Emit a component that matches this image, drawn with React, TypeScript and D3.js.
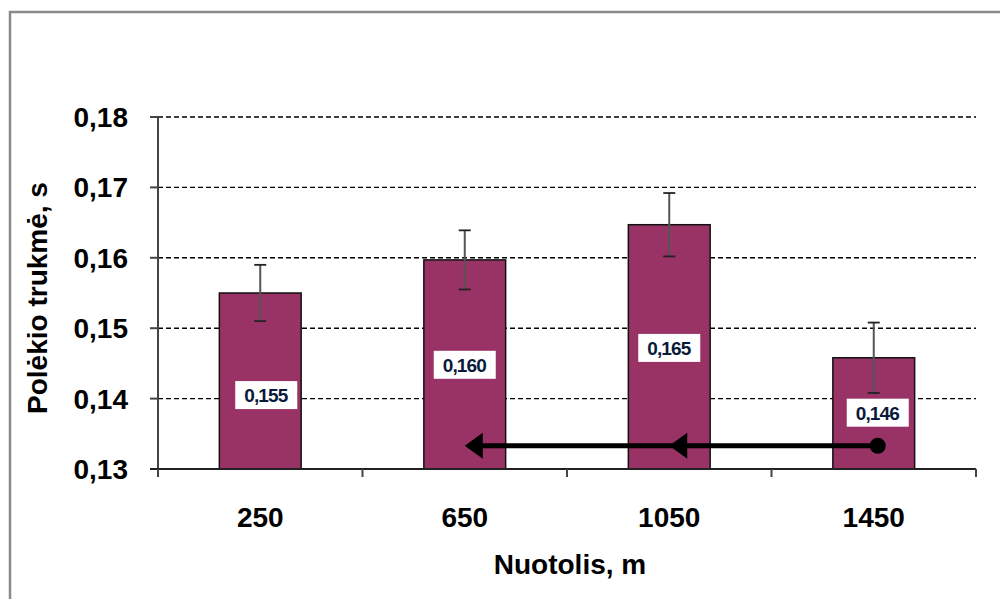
import React from "react";
import * as d3 from "d3";

const categories = ["250", "650", "1050", "1450"];
const values = [0.155, 0.1597, 0.1647, 0.1458];
const errors = [0.004, 0.0042, 0.0045, 0.005];
const labels = ["0,155", "0,160", "0,165", "0,146"];
const labelAt = [0.1405, 0.1448, 0.1472, 0.138];
const yTicks = [0.13, 0.14, 0.15, 0.16, 0.17, 0.18];
const arrowLevel = 0.1333;
const arrowFrom = "1450";
const arrowTo = "650";
const arrowMid = "1050";

const W = 1000;
const H = 599;
const left = 158;
const right = 976;
const top = 117;
const bottom = 469;
const FONT = "'Liberation Sans', Arial, sans-serif";
const BAR = "#993366";

export default function App() {
  const x = d3.scaleBand<string>().domain(categories).range([left, right]).paddingInner(0.6).paddingOuter(0.3);
  const xb = d3.scaleBand<string>().domain(categories).range([left, right]);
  const y = d3.scaleLinear().domain([0.13, 0.18]).range([bottom, top]);
  const fmt = (v: number) => d3.format(".2f")(v).replace(".", ",");
  const cx = (c: string) => (xb(c) as number) + xb.bandwidth() / 2;
  const ay = y(arrowLevel);
  const x1 = cx(arrowFrom) + 4;
  const x2 = cx(arrowTo);
  const xm = cx(arrowMid);
  const head = (tip: number) => `M${tip},${ay} L${tip + 18},${ay - 13} L${tip + 18},${ay + 13} Z`;

  return (
    <div style={{ position: "fixed", left: 0, top: 0 }}>
      <svg width={W} height={H} style={{ display: "block", background: "#fff" }}>
        <rect x={10} y={12} width={1100} height={700} fill="#fff" stroke="#8a8a8a" strokeWidth={2.5} />
        {/* gridlines */}
        {yTicks.filter((t) => t > 0.13).map((t) => (
          <line key={"g" + t} x1={left} x2={right} y1={y(t)} y2={y(t)} stroke="#000" strokeWidth={1.4} strokeDasharray="5,3" />
        ))}
        {/* bars */}
        {categories.map((c, i) => (
          <rect key={"b" + c} x={x(c)} y={y(values[i])} width={x.bandwidth()} height={bottom - y(values[i])} fill={BAR} stroke="#111" strokeWidth={1.5} />
        ))}
        {/* error bars */}
        {categories.map((c, i) => {
          const m = cx(c);
          const t = y(values[i] + errors[i]);
          const b = y(values[i] - errors[i]);
          return (
            <g key={"e" + c}>
              <line x1={m} x2={m} y1={t} y2={b} stroke="#555" strokeWidth={2} />
              <line x1={m - 6} x2={m + 6} y1={t} y2={t} stroke="#222" strokeWidth={1.8} />
              <line x1={m - 6} x2={m + 6} y1={b} y2={b} stroke="#222" strokeWidth={1.8} />
            </g>
          );
        })}
        {/* data labels */}
        {categories.map((c, i) => {
          const m = cx(c) + (i === 0 ? 6 : i === 3 ? 4 : 0);
          const ly = y(labelAt[i]);
          return (
            <g key={"l" + c}>
              <rect x={m - 31} y={ly - 14} width={62} height={28} fill="#fff" />
              <text x={m} y={ly + 7} textAnchor="middle" fontFamily={FONT} fontWeight="bold" fontSize={19} fill="#0a1a3a" textLength={44} lengthAdjust="spacing">
                {labels[i]}
              </text>
            </g>
          );
        })}
        {/* arrow */}
        <line x1={x1} x2={x2 + 10} y1={ay} y2={ay} stroke="#000" strokeWidth={5} />
        <path d={head(x2)} fill="#000" />
        <path d={head(xm)} fill="#000" />
        <circle cx={x1} cy={ay} r={8} fill="#000" />
        {/* axes */}
        <line x1={left} x2={left} y1={top} y2={bottom + 8} stroke="#444" strokeWidth={2} />
        {yTicks.map((t) => (
          <line key={"yt" + t} x1={left - 8} x2={left} y1={y(t)} y2={y(t)} stroke="#444" strokeWidth={2} />
        ))}
        <line x1={left - 8} x2={right} y1={bottom} y2={bottom} stroke="#222" strokeWidth={2} />
        {[...categories.map((c) => xb(c) as number), right].map((v, i) => (
          <line key={"xt" + i} x1={v} x2={v} y1={bottom} y2={bottom + 8} stroke="#444" strokeWidth={2} />
        ))}
        {yTicks.map((t) => (
          <text key={"yl" + t} x={128} y={y(t) + 10} textAnchor="end" fontFamily={FONT} fontWeight="bold" fontSize={28} fill="#000">
            {fmt(t)}
          </text>
        ))}
        {categories.map((c) => (
          <text key={"xl" + c} x={cx(c)} y={527} textAnchor="middle" fontFamily={FONT} fontWeight="bold" fontSize={28} fill="#000">
            {c}
          </text>
        ))}
        <text x={570} y={574} textAnchor="middle" fontFamily={FONT} fontWeight="bold" fontSize={28} fill="#000">
          Nuotolis, m
        </text>
        <text transform="translate(47,298) rotate(-90)" textAnchor="middle" fontFamily={FONT} fontWeight="bold" fontSize={28} fill="#000">
          Polėkio trukmė, s
        </text>
      </svg>
    </div>
  );
}
